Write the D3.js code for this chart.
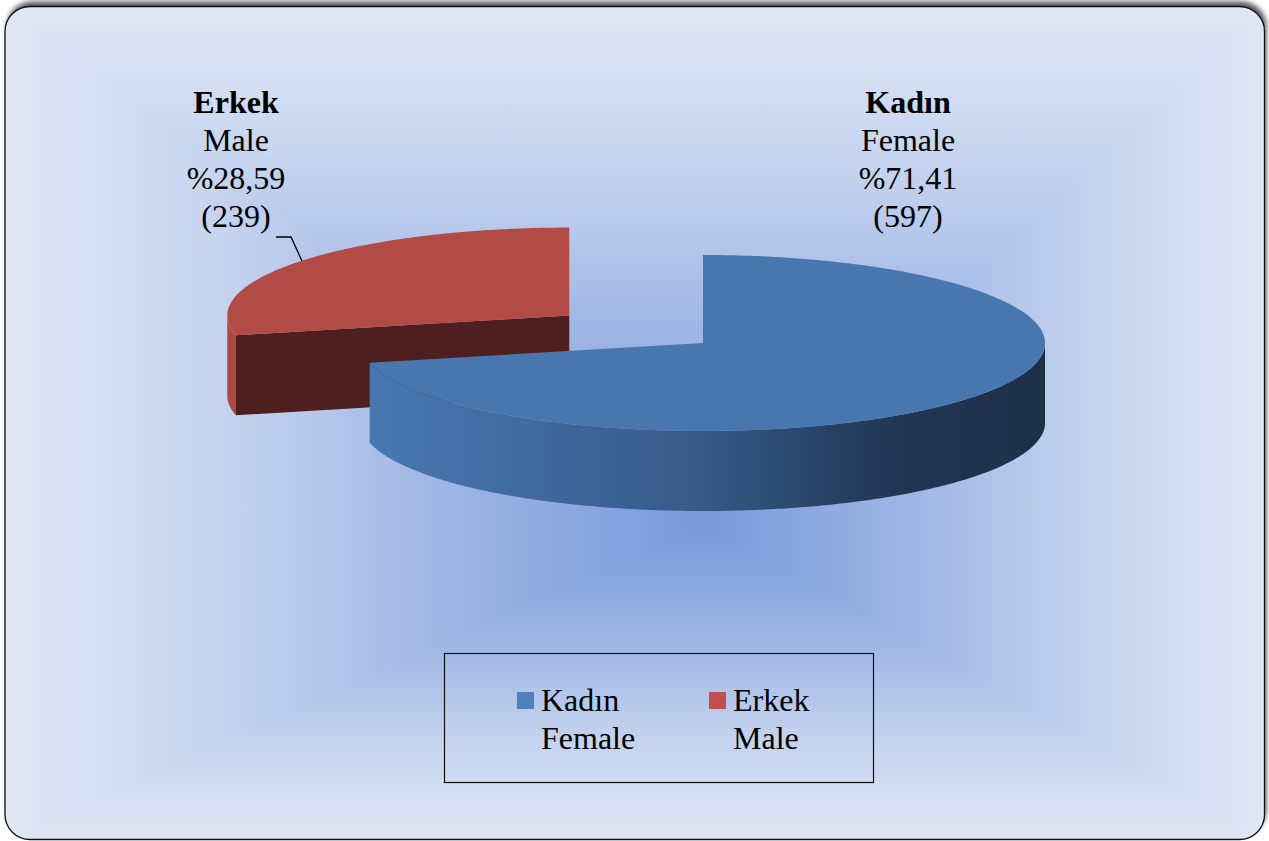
<!DOCTYPE html>
<html>
<head>
<meta charset="utf-8">
<script src="https://cdn.jsdelivr.net/npm/d3@7"></script>
<style>
  body { margin: 0; background: #ffffff; }
  svg { display: block; }
  .lbl { font-family: "Liberation Serif", "Times New Roman", serif; font-size: 32px; fill: #000; }
</style>
</head>
<body>
<div id="chart"></div>
<script>
// data
var categories = ["Kadın", "Erkek"];
var subLabels = ["Female", "Male"];
var counts = [597, 239];
var percentLabels = ["%71,41", "%28,59"];
var explode = [0, 0.5];

var width = 1269, height = 841;
var svg = d3.select("#chart").append("svg")
    .attr("width", width)
    .attr("height", height);
var defs = svg.append("defs");

// panel box
var px0 = 5, py0 = 6.5, px1 = 1264.5, py1 = 839.5;
var gcx = 705, gcy = 525;   // centre of the rectangular gradient

defs.append("filter").attr("id", "shadow")
    .attr("x", -0.05).attr("y", -0.05).attr("width", 1.1).attr("height", 1.1)
    .append("feGaussianBlur").attr("stdDeviation", 2.5);

defs.append("clipPath").attr("id", "panelClip")
    .append("rect")
    .attr("x", px0).attr("y", py0)
    .attr("width", px1 - px0).attr("height", py1 - py0)
    .attr("rx", 25).attr("ry", 25);

var bgStops = [
    [0, "#e0e7f4"],
    [0.3, "#c6d4ef"],
    [0.65, "#9cb4e4"],
    [1, "#7899da"]
];
function bgGrad(id, x1, y1, x2, y2) {
    var g = defs.append("linearGradient").attr("id", id)
        .attr("gradientUnits", "userSpaceOnUse")
        .attr("x1", x1).attr("y1", y1).attr("x2", x2).attr("y2", y2);
    bgStops.forEach(function(s) {
        g.append("stop").attr("offset", s[0]).attr("stop-color", s[1]);
    });
}
bgGrad("bgTop", 0, py0, 0, gcy);
bgGrad("bgBottom", 0, py1, 0, gcy);
bgGrad("bgLeft", px0, 0, gcx, 0);
bgGrad("bgRight", px1, 0, gcx, 0);

// shadow behind panel
svg.append("rect")
    .attr("x", px0 + 2).attr("y", py0 - 5)
    .attr("width", px1 - px0).attr("height", py1 - py0)
    .attr("rx", 25).attr("ry", 25)
    .attr("fill", "#5a5a5a")
    .attr("filter", "url(#shadow)");

var bg = svg.append("g").attr("clip-path", "url(#panelClip)");
var tri = [
    {id: "bgTop", pts: [[px0, py0], [px1, py0], [gcx, gcy]]},
    {id: "bgBottom", pts: [[px0, py1], [px1, py1], [gcx, gcy]]},
    {id: "bgLeft", pts: [[px0, py0], [px0, py1], [gcx, gcy]]},
    {id: "bgRight", pts: [[px1, py0], [px1, py1], [gcx, gcy]]}
];
bg.selectAll("path.bg").data(tri).enter().append("path")
    .attr("class", "bg")
    .attr("d", function(d) { return "M" + d.pts.join("L") + "Z"; })
    .attr("fill", function(d) { return "url(#" + d.id + ")"; })
    .attr("stroke", function(d) { return "url(#" + d.id + ")"; })
    .attr("stroke-width", 1.5);

svg.append("rect")
    .attr("x", px0).attr("y", py0)
    .attr("width", px1 - px0).attr("height", py1 - py0)
    .attr("rx", 25).attr("ry", 25)
    .attr("fill", "none")
    .attr("stroke", "#111")
    .attr("stroke-width", 1.3);

// 3d pie
var cx = 703, cy = 343, rx = 342, ry = 88, depth = 80;
var topColors = ["#4877b0", "#b24b46"];
var sideColors = ["#4877b0", "#ae4742"];
var cutColors = ["#2b4a70", "#4e1f1e"];

var blueSide = defs.append("linearGradient").attr("id", "blueSide")
    .attr("gradientUnits", "userSpaceOnUse")
    .attr("x1", cx - rx).attr("y1", 0).attr("x2", cx + rx).attr("y2", 0);
[[0, "#4979b2"], [0.3, "#3f669a"], [0.5, "#355a88"], [0.65, "#2a466b"], [0.78, "#213653"], [1, "#1e2f48"]]
    .forEach(function(s) { blueSide.append("stop").attr("offset", s[0]).attr("stop-color", s[1]); });

var pie = d3.pie().sort(null).value(function(d) { return d; });
var arcs = pie(counts);

arcs.forEach(function(a, i) {
    var mid = (a.startAngle + a.endAngle) / 2;
    a.cx = cx + explode[i] * rx * Math.sin(mid);
    a.cy = cy - explode[i] * ry * Math.cos(mid);
    a.i = i;
});

function pt(a, ang, dy) {
    return [a.cx + rx * Math.sin(ang), a.cy - ry * Math.cos(ang) + (dy || 0)];
}
function arcPts(a, a0, a1, dy) {
    var n = Math.max(2, Math.ceil(Math.abs(a1 - a0) / 0.01));
    return d3.range(n + 1).map(function(k) { return pt(a, a0 + (a1 - a0) * k / n, dy); });
}
var line = d3.line();

// back slices first
var order = arcs.slice().sort(function(p, q) { return p.cy - q.cy; });
var pieG = svg.append("g");

order.forEach(function(a) {
    var g = pieG.append("g");
    var i = a.i;
    // outer wall, front half only
    var s0 = Math.max(a.startAngle, Math.PI / 2);
    var s1 = Math.min(a.endAngle, 3 * Math.PI / 2);
    if (s1 > s0) {
        var pts = arcPts(a, s0, s1, 0).concat(arcPts(a, s1, s0, depth));
        g.append("path")
            .attr("d", line(pts) + "Z")
            .attr("fill", i === 0 ? "url(#blueSide)" : sideColors[i]);
    }
    // cut faces
    [[a.startAngle, -Math.sin(a.startAngle)], [a.endAngle, Math.sin(a.endAngle)]].forEach(function(f) {
        if (f[1] > 0.01) {
            var e = pt(a, f[0], 0);
            var face = [[a.cx, a.cy], e, [e[0], e[1] + depth], [a.cx, a.cy + depth]];
            g.append("path")
                .attr("d", line(face) + "Z")
                .attr("fill", cutColors[i]);
        }
    });
    // top face
    var top = [[a.cx, a.cy]].concat(arcPts(a, a.startAngle, a.endAngle, 0));
    g.append("path")
        .attr("d", line(top) + "Z")
        .attr("fill", topColors[i]);
});

// data labels
var labelX = [908, 236];
var labelY = 113;
var lineH = 38;
categories.forEach(function(c, i) {
    var t = svg.append("text").attr("class", "lbl")
        .attr("text-anchor", "middle")
        .attr("x", labelX[i]).attr("y", labelY);
    t.append("tspan").attr("x", labelX[i]).attr("font-weight", "bold").text(c);
    t.append("tspan").attr("x", labelX[i]).attr("dy", lineH).text(subLabels[i]);
    t.append("tspan").attr("x", labelX[i]).attr("dy", lineH).text(percentLabels[i]);
    t.append("tspan").attr("x", labelX[i]).attr("dy", lineH).text("(" + counts[i] + ")");
});

// leader line for the male label
svg.append("polyline")
    .attr("points", "276,237 291,237 302,261")
    .attr("fill", "none")
    .attr("stroke", "#000")
    .attr("stroke-width", 1.3);

// legend
svg.append("rect")
    .attr("x", 444.5).attr("y", 653.5)
    .attr("width", 429).attr("height", 129)
    .attr("fill", "none")
    .attr("stroke", "#111")
    .attr("stroke-width", 1.2);

var legendX = [517, 709];
var legendColors = ["#4f81bd", "#c0504d"];
var leg = svg.selectAll("g.leg").data(categories).enter().append("g")
    .attr("class", "leg")
    .attr("transform", function(d, i) { return "translate(" + legendX[i] + ",692)"; });
leg.append("rect")
    .attr("width", 17).attr("height", 17)
    .attr("fill", function(d, i) { return legendColors[i]; });
leg.append("text").attr("class", "lbl")
    .attr("x", 24).attr("y", 19)
    .text(function(d) { return d; });
leg.append("text").attr("class", "lbl")
    .attr("x", 24).attr("y", 57)
    .text(function(d, i) { return subLabels[i]; });
</script>
</body>
</html>
